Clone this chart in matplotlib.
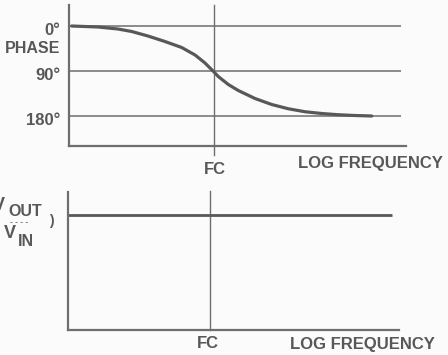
import matplotlib
matplotlib.use("Agg")
import matplotlib.pyplot as plt

# frequency relative to the corner frequency FC (FC = 1)
phase_freq = [0.0337, 0.0631, 0.1016, 0.141, 0.2075, 0.311, 0.4634, 0.637,
              0.807, 1.0, 1.107, 1.406, 1.782, 2.655, 3.954, 5.86, 8.73,
              13.0, 19.3, 28.7, 42.8]
phase_deg = [0, 2, 6, 11, 20, 31, 43, 58,
             74, 92, 101, 117, 129, 145, 157, 165.5, 171.5,
             175, 177.5, 179, 180]

gain_freq = [0.034, 76.0]
gain_val = [1.0, 1.0]

phase_ticks = [0, 90, 180]
phase_labels = ["0°", "90°", "180°"]
grid_end = 86.0
fc = 1.0

INK = "#585858"
LINE = "#6e6e6e"
BG = "#fbfbfb"
FONT = "Liberation Sans"

W, H = 448, 355


def _fig_xy(px, py):
    return px / W, 1 - py / H


def _style(ax):
    ax.set_facecolor("none")
    ax.set_xscale("log")
    for s in ("top", "right"):
        ax.spines[s].set_visible(False)
    for s in ("left", "bottom"):
        ax.spines[s].set_color(LINE)
        ax.spines[s].set_linewidth(1.6)
    ax.set_xticks([])
    ax.set_yticks([])
    ax.minorticks_off()


def main():
    fig = plt.figure(figsize=(W / 100, H / 100), dpi=100, facecolor=BG)

    # --- phase plot ---
    ax = fig.add_axes([69 / W, 209 / H, 337 / W, 141 / H])
    _style(ax)
    ax.set_xlim(10 ** -1.4995, 10 ** 1.9855)
    ax.set_ylim(240, -42)
    ax.hlines(phase_ticks, ax.get_xlim()[0], grid_end, color=LINE, lw=1.1)
    ax.axvline(fc, ymin=-0.064, ymax=1, color=LINE, lw=1.0, clip_on=False)
    ax.plot(phase_freq, phase_deg, color=INK, lw=2.3, solid_capstyle="round",
            solid_joinstyle="round")
    for v, lab in zip(phase_ticks, phase_labels):
        ax.annotate(lab, (0, v), xycoords=("axes fraction", "data"),
                    xytext=(-6, -3), textcoords="offset points",
                    ha="right", va="center", fontsize=12, fontweight="bold",
                    color=INK, family=FONT)
    ax.annotate("PHASE", (0, 45), xycoords=("axes fraction", "data"),
                xytext=(-6, 0), textcoords="offset points",
                ha="right", va="center", fontsize=11.5, fontweight="bold",
                color=INK, family=FONT)
    fig.text(*_fig_xy(215, 169), "FC", ha="center", va="center", fontsize=12,
             fontweight="bold", color=INK, family=FONT)
    fig.text(*_fig_xy(370, 163), "LOG FREQUENCY", ha="center", va="center",
             fontsize=12, fontweight="bold", color=INK, family=FONT)

    # --- gain plot ---
    ax2 = fig.add_axes([68 / W, 25 / H, 331 / W, 138 / H])
    _style(ax2)
    ax2.set_xlim(10 ** -1.468, 10 ** 1.954)
    ax2.set_ylim(0, 1.2)
    ax2.axvline(fc, ymin=0, ymax=1.01, color=LINE, lw=1.0, clip_on=False)
    ax2.plot(gain_freq, gain_val, color=INK, lw=2.0, solid_capstyle="butt")
    fig.text(*_fig_xy(208, 344), "FC", ha="center", va="center", fontsize=12,
             fontweight="bold", color=INK, family=FONT)
    fig.text(*_fig_xy(362, 344), "LOG FREQUENCY", ha="center", va="center",
             fontsize=12, fontweight="bold", color=INK, family=FONT)

    # (Vout / Vin) label, the left of it lost at the page edge like the scan
    kw = dict(va="center", fontweight="bold", color=INK, family=FONT)
    fig.text(*_fig_xy(-7, 206), "V", ha="left", fontsize=13, **kw)
    fig.text(*_fig_xy(8, 212), "OUT", ha="left", fontsize=11.5, **kw)
    fig.text(*_fig_xy(10, 222), "- - - -", ha="left", fontsize=6, **kw)
    fig.text(*_fig_xy(49, 221), ")", ha="left", fontsize=10, **kw)
    fig.text(*_fig_xy(4, 233), "V", ha="left", fontsize=13, **kw)
    fig.text(*_fig_xy(18, 241), "IN", ha="left", fontsize=11.5, **kw)

    fig.savefig("out.png", dpi=100, facecolor=BG)


if __name__ == "__main__":
    main()
